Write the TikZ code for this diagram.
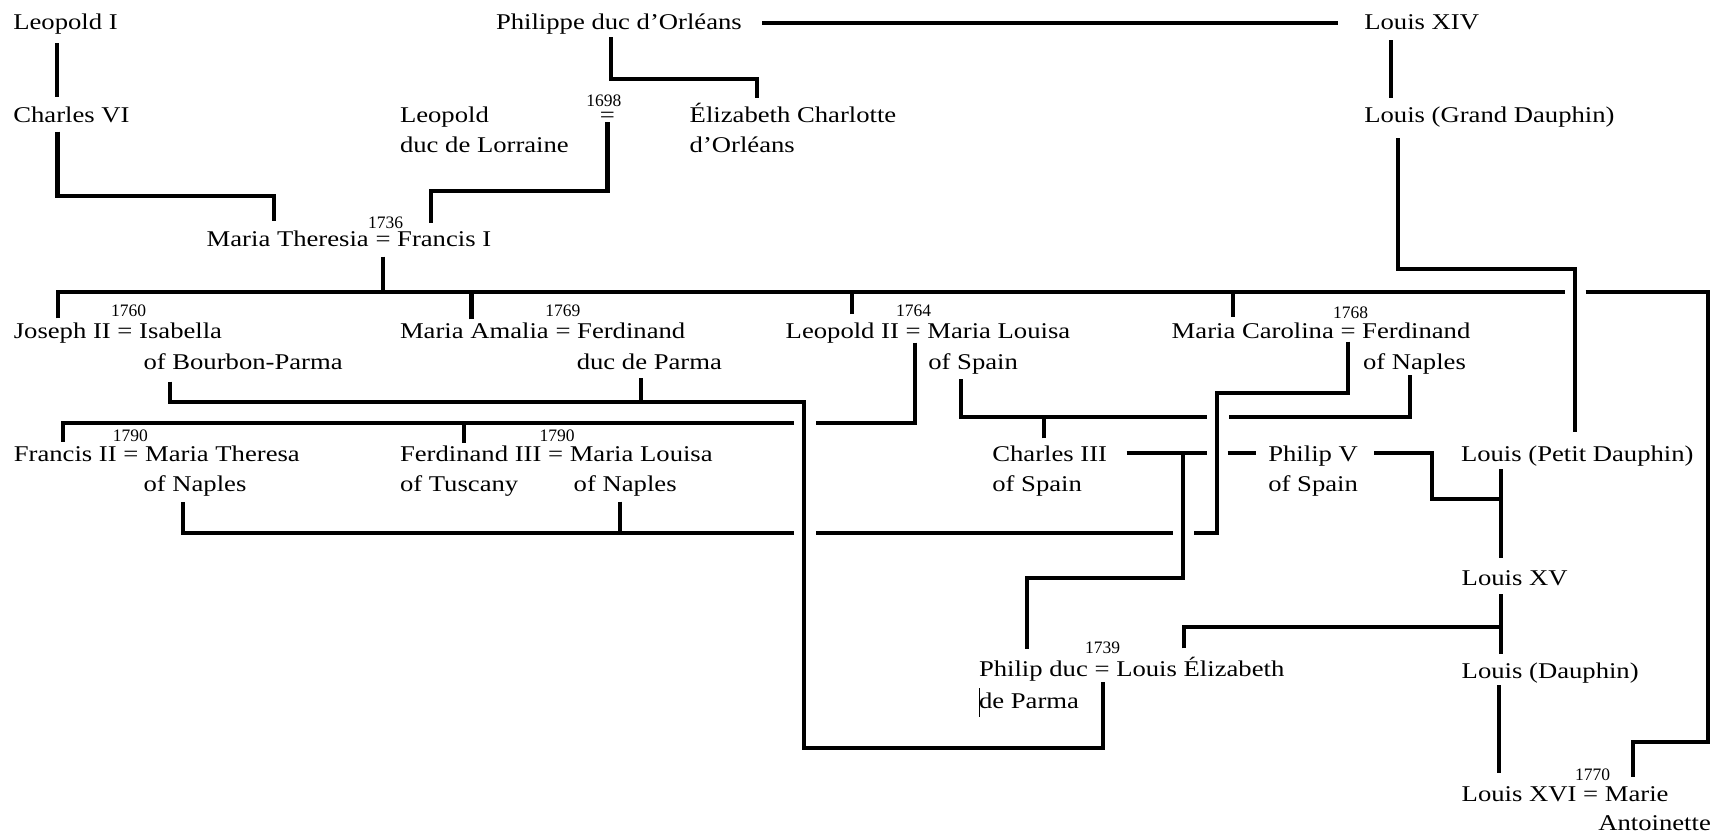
\documentclass[tikz,border=0pt]{standalone}
\usepackage{fontspec}
\setmainfont{Liberation Serif}[FakeStretch=1.185]
\newfontfamily\yrfont{Liberation Serif}
\begin{document}
\begin{tikzpicture}[x=1pt,y=-1pt,
  nm/.style={anchor=base west,inner sep=0pt,outer sep=0pt,font=\fontsize{22.5}{27}\selectfont},
  yr/.style={anchor=base west,inner sep=0pt,outer sep=0pt,font=\yrfont\fontsize{17.5}{20}\selectfont},
  ln/.style={line width=4.2pt,line join=miter,line cap=butt}]
\useasboundingbox (0,0) rectangle (1723,836);
% ---------- names ----------
\node[nm] (leoI) at (13.3,29.8) {Leopold I};
\node[nm] (phil) at (496,29.8) {Philippe duc d’Orléans};
\node[nm] (lxiv) at (1364.3,29.8) {Louis XIV};
\node[nm] (chvi) at (13.3,122) {Charles VI};
\node[nm] (lorA) at (400,122) {Leopold};
\node[nm] (lorB) at (400,152) {duc de Lorraine};
\node[yr] (y1698) at (586.4,106) {1698};
\node[nm,anchor=base,text height=9pt,text depth=0pt] (eqlor) at (607.4,122) {=};
\node[nm] (elcA) at (689.7,122) {Élizabeth Charlotte};
\node[nm] (elcB) at (689.7,152) {d’Orléans};
\node[nm] (gdau) at (1364.3,122) {Louis (Grand Dauphin)};
\node[nm] (mtfi) at (206.7,246.5) {Maria Theresia = Francis I};
\node[yr] (y1736) at (368,228.3) {1736};
\node[nm] (josA) at (13.8,338.3) {Joseph II = Isabella};
\node[nm] (josB) at (143.5,369) {of Bourbon-Parma};
\node[yr] (y1760) at (111,316.7) {1760};
\node[nm] (amaA) at (400,338.3) {Maria Amalia = Ferdinand};
\node[nm] (amaB) at (576.8,369) {duc de Parma};
\node[yr] (y1769) at (545.3,316.7) {1769};
\node[nm] (lpiiA) at (785.7,338.3) {Leopold II = Maria Louisa};
\node[nm] (lpiiB) at (928.3,369) {of Spain};
\node[yr] (y1764) at (896,316.5) {1764};
\node[nm] (carA) at (1171.7,338.3) {Maria Carolina = Ferdinand};
\node[nm] (carB) at (1363,369) {of Naples};
\node[yr] (y1768) at (1333,318.5) {1768};
\node[nm] (frA) at (13.8,461.7) {Francis II = Maria Theresa};
\node[nm] (frB) at (143.5,491.7) {of Naples};
\node[yr] (y1790a) at (112.9,441.7) {1790};
\node[nm] (fdA) at (400,461.7) {Ferdinand III = Maria Louisa};
\node[nm] (fdB) at (400,491.7) {of Tuscany};
\node[nm] (fdC) at (573.7,491.7) {of Naples};
\node[yr] (y1790b) at (539.6,441.7) {1790};
\node[nm] (c3A) at (992.3,461.7) {Charles III};
\node[nm] (c3B) at (992.3,491.7) {of Spain};
\node[nm] (p5A) at (1268.3,461.7) {Philip V};
\node[nm] (p5B) at (1268.3,491.7) {of Spain};
\node[nm] (pdau) at (1461,461.7) {Louis (Petit Dauphin)};
\node[nm] (lxv) at (1461.7,585) {Louis XV};
\node[nm] (pdpA) at (979,676.7) {Philip duc = Louis Élizabeth};
\node[nm] (pdpB) at (979,708.3) {de Parma};
\node[yr] (y1739) at (1085,653.3) {1739};
\node[nm] (ldau) at (1461.7,678.3) {Louis (Dauphin)};
\node[nm] (lxviA) at (1461.7,801.7) {Louis XVI = Marie};
\node[nm] (lxviB) at (1598.3,830) {Antoinette};
\node[yr] (y1770) at (1575,780) {1770};
% stray text cursor
\draw[line width=1pt] (979.3,688) -- (979.3,716.7);
% ---------- connector end points ----------
\coordinate (leoI-s) at (56.7,43.3);   \coordinate (chvi-n) at (56.7,97.3);
\coordinate (chvi-s) at (57.5,131.7);  \coordinate (mt-n) at (274,220.7);
\coordinate (phil-e) at (762.4,22.7);  \coordinate (lxiv-w) at (1338,22.7);
\coordinate (phil-s) at (611.2,37.3);  \coordinate (elc-n) at (756.7,98.3);
\coordinate (eqlor-s) at (607.4,122);  \coordinate (fi-n) at (431.3,223.3);
\coordinate (lxiv-s) at (1391,40);     \coordinate (gdau-n) at (1391,98.3);
\coordinate (gdau-s) at (1398.3,138.3);\coordinate (pdau-n) at (1575,431.7);
\coordinate (mtfi-s) at (382.7,256.7);
\coordinate (jos-n) at (58.2,318.3);   \coordinate (ama-n) at (471.5,319.3);
\coordinate (lpii-n) at (852.3,314);   \coordinate (car-n) at (1233.3,316.7);
\coordinate (ma-n) at (1633.3,776.7);
\coordinate (isa-s) at (170.3,381.7);  \coordinate (fpar-s) at (641,378.3);
\coordinate (pdpeq-s) at (1102.7,681.7);
\coordinate (lpiieq-s) at (915,342.7); \coordinate (fr-n) at (63.1,441.7);
\coordinate (fd-n) at (463.8,442.7);
\coordinate (mls-s) at (961,379.3);    \coordinate (fnap-s) at (1410,375);
\coordinate (c3-n) at (1044.3,438.3);
\coordinate (careq-s) at (1348.3,341.7);\coordinate (mtn-s) at (182.9,501.7);
\coordinate (mln-s) at (619.7,501.7);
\coordinate (c3-e) at (1126.7,453.3);  \coordinate (p5-w) at (1256,453.3);
\coordinate (pdp-n) at (1026.7,649.3);
\coordinate (p5-e) at (1374,453.3);
\coordinate (pdau-s) at (1500.7,469.3);\coordinate (lxv-n) at (1500.7,558.3);
\coordinate (lxv-s) at (1500.7,594.3); \coordinate (ldau-n) at (1500.7,654);
\coordinate (le-n) at (1184.3,648.3);
\coordinate (ldau-s) at (1499.3,685);  \coordinate (lxvi-n) at (1499.3,773.3);
% ---------- connectors ----------
\draw[ln] (leoI-s) -- (chvi-n);
\draw[ln] (chvi-s) -- (57.5,196) -- (274,196) -- (mt-n);
\draw[ln] (phil-e) -- (lxiv-w);
\draw[ln] (phil-s) -- (611.2,79) -- (756.7,79) -- (elc-n);
\draw[ln] (eqlor-s) -- (607.4,191) -- (431.3,191) -- (fi-n);
\draw[ln] (lxiv-s) -- (gdau-n);
\draw[ln] (gdau-s) -- (1398.3,268.8) -- (1575,268.8) -- (pdau-n);
% children of Maria Theresia and Francis I
\draw[ln] (mtfi-s) -- (382.7,291.7);
\draw[ln] (jos-n) -- (58.2,291.7) -- (1565,291.7);
\draw[ln] (1585.6,291.7) -- (1708,291.7) -- (1708,742.3) -- (1633.3,742.3) -- (ma-n);
\draw[ln] (ama-n) -- (471.5,291.7);
\draw[ln] (lpii-n) -- (852.3,291.7);
\draw[ln] (car-n) -- (1233.3,291.7);
% Isabella / Ferdinand duc de Parma -> Philip duc de Parma
\draw[ln] (isa-s) -- (170.3,401.7) -- (804.3,401.7) -- (804.3,748.3) -- (1102.7,748.3) -- (pdpeq-s);
\draw[ln] (fpar-s) -- (641,401.7);
% children of Leopold II
\draw[ln] (lpiieq-s) -- (915,423) -- (815.7,423);
\draw[ln] (794,423) -- (63.1,423) -- (fr-n);
\draw[ln] (fd-n) -- (463.8,423);
% Maria Louisa of Spain, Charles III, Ferdinand of Naples
\draw[ln] (mls-s) -- (961,416.7) -- (1206.7,416.7);
\draw[ln] (1229.3,416.7) -- (1410,416.7) -- (fnap-s);
\draw[ln] (c3-n) -- (1044.3,416.7);
% children of Maria Carolina and Ferdinand
\draw[ln] (careq-s) -- (1348.3,393.3) -- (1216.7,393.3) -- (1216.7,532.7) -- (1194,532.7);
\draw[ln] (1172.7,532.7) -- (815.7,532.7);
\draw[ln] (794,532.7) -- (182.9,532.7) -- (mtn-s);
\draw[ln] (mln-s) -- (619.7,532.7);
% Charles III -- Philip V, Philip duc de Parma
\draw[ln] (c3-e) -- (1206.7,453.3);
\draw[ln] (1227.7,453.3) -- (p5-w);
\draw[ln] (1182.7,453.3) -- (1182.7,578.3) -- (1026.7,578.3) -- (pdp-n);
% Philip V -- Petit Dauphin line
\draw[ln] (p5-e) -- (1431.7,453.3) -- (1431.7,499.3) -- (1500.7,499.3);
\draw[ln] (pdau-s) -- (lxv-n);
\draw[ln] (lxv-s) -- (ldau-n);
\draw[ln] (le-n) -- (1184.3,627.3) -- (1500.7,627.3);
\draw[ln] (ldau-s) -- (lxvi-n);
\end{tikzpicture}
\end{document}
